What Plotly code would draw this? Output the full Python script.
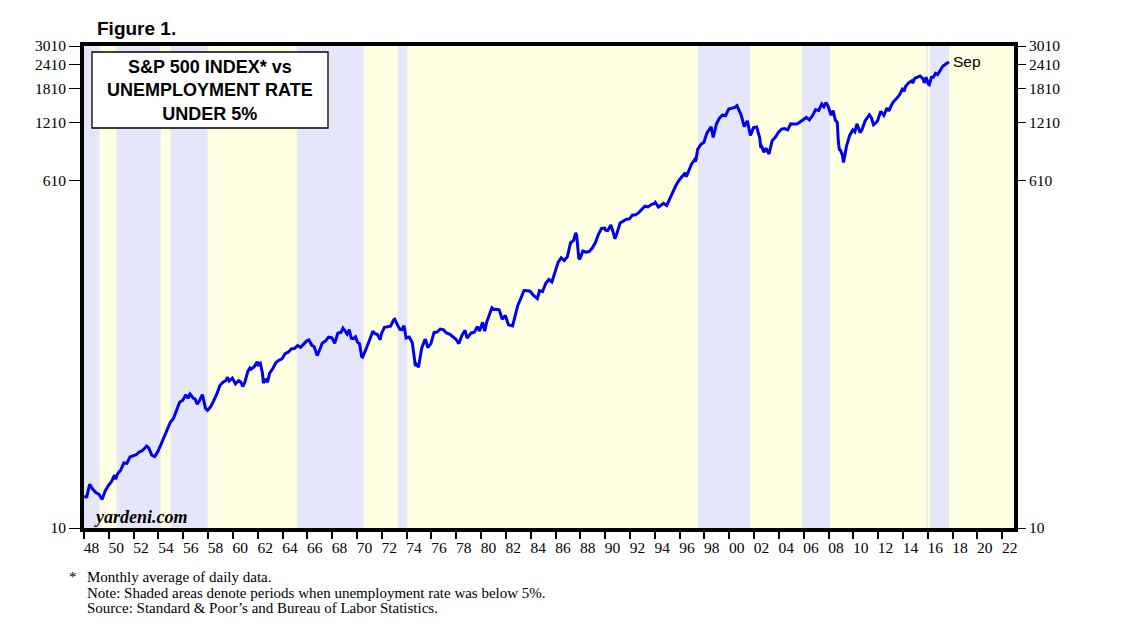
import math
import plotly.graph_objects as go

# ---------------- data ----------------
months = [
 "1948-01","1948-03","1948-06","1948-09","1948-12","1949-03","1949-06","1949-09","1949-12",
 "1950-03","1950-06","1950-07","1950-09","1950-12","1951-03","1951-06","1951-09","1951-12",
 "1952-03","1952-06","1952-09","1952-12","1953-01","1953-03","1953-06","1953-09","1953-12",
 "1954-03","1954-06","1954-09","1954-12","1955-03","1955-06","1955-09","1955-12",
 "1956-03","1956-05","1956-07","1956-10","1956-12","1957-02","1957-04","1957-07","1957-09","1957-10","1957-12",
 "1958-03","1958-06","1958-09","1958-12","1959-03","1959-06","1959-07","1959-09","1959-12",
 "1960-03","1960-06","1960-08","1960-10","1960-12","1961-03","1961-05","1961-06","1961-09","1961-12",
 "1962-01","1962-03","1962-05","1962-06","1962-08","1962-10","1962-12",
 "1963-03","1963-06","1963-09","1963-12","1964-03","1964-06","1964-09","1964-12",
 "1965-03","1965-06","1965-09","1965-12","1966-02","1966-05","1966-07","1966-10","1966-12",
 "1967-03","1967-06","1967-09","1967-12","1968-03","1968-06","1968-09","1968-11",
 "1969-01","1969-03","1969-05","1969-07","1969-09","1969-11",
 "1970-01","1970-03","1970-05","1970-06","1970-09","1970-12",
 "1971-03","1971-04","1971-06","1971-08","1971-11","1971-12",
 "1972-03","1972-06","1972-09","1972-12","1973-01","1973-03","1973-06","1973-08","1973-10","1973-12",
 "1974-03","1974-06","1974-08","1974-09","1974-10","1974-12",
 "1975-03","1975-06","1975-07","1975-09","1975-12","1976-03","1976-06","1976-09","1976-12",
 "1977-03","1977-06","1977-09","1977-12","1978-03","1978-06","1978-09","1978-11",
 "1979-03","1979-06","1979-09","1979-11","1980-02","1980-04","1980-06","1980-09","1980-11",
 "1981-01","1981-03","1981-06","1981-09","1981-12","1982-03","1982-07","1982-09","1982-12",
 "1983-03","1983-06","1983-09","1983-12","1984-03","1984-07","1984-09","1984-12",
 "1985-03","1985-06","1985-09","1985-12","1986-03","1986-06","1986-09","1986-12",
 "1987-03","1987-06","1987-08","1987-09","1987-10","1987-11","1987-12",
 "1988-03","1988-06","1988-09","1988-12","1989-03","1989-06","1989-09","1989-12",
 "1990-01","1990-03","1990-06","1990-08","1990-10","1990-12",
 "1991-03","1991-06","1991-09","1991-12","1992-03","1992-06","1992-09","1992-12",
 "1993-03","1993-06","1993-09","1993-12","1994-01","1994-04","1994-06","1994-09","1994-12",
 "1995-03","1995-06","1995-09","1995-12","1996-03","1996-06","1996-07","1996-09","1996-12",
 "1997-03","1997-04","1997-06","1997-09","1997-12","1998-03","1998-07","1998-09","1998-12",
 "1999-03","1999-06","1999-09","1999-12","2000-03","2000-06","2000-08","2000-10","2000-12",
 "2001-03","2001-04","2001-06","2001-09","2001-12","2002-03","2002-06","2002-07","2002-08","2002-10","2002-12",
 "2003-03","2003-06","2003-09","2003-12","2004-03","2004-06","2004-09","2004-12",
 "2005-03","2005-06","2005-09","2005-12","2006-03","2006-06","2006-09","2006-12",
 "2007-03","2007-06","2007-08","2007-10","2007-12",
 "2008-03","2008-05","2008-07","2008-09","2008-10","2008-11","2008-12",
 "2009-02","2009-03","2009-06","2009-09","2009-12",
 "2010-02","2010-04","2010-07","2010-09","2010-12",
 "2011-04","2011-06","2011-08","2011-10","2011-12",
 "2012-03","2012-06","2012-09","2012-11","2013-01","2013-03","2013-06","2013-09","2013-12",
 "2014-02","2014-03","2014-06","2014-09","2014-10","2014-12",
 "2015-03","2015-05","2015-08","2015-09","2015-11",
 "2016-01","2016-02","2016-04","2016-06","2016-08","2016-10","2016-12",
 "2017-03","2017-06","2017-09",
]
sp500 = [
 14.7,14.3,16.8,15.8,15.2,14.9,14.0,15.5,16.5,
 17.3,18.7,17.8,19.0,19.8,21.6,21.5,23.2,23.4,
 23.8,24.6,25.0,26.0,26.4,25.9,23.7,23.3,24.8,
 26.9,29.2,32.3,35.0,36.6,40.0,44.3,45.4,
 48.5,46.5,48.8,46.6,46.0,43.3,45.0,48.5,44.0,41.2,40.3,
 42.1,45.2,48.9,54.2,56.2,57.5,59.7,57.0,59.0,
 55.0,57.2,56.5,53.4,56.0,64.0,66.5,65.6,67.3,71.7,
 69.1,70.3,62.9,55.6,58.5,56.2,62.6,
 65.9,70.8,72.9,74.2,78.8,80.2,83.4,83.8,
 86.8,85.0,88.9,91.7,92.7,86.8,85.8,77.1,81.3,
 89.4,91.4,95.8,95.3,89.1,100.5,101.3,106.5,
 102.0,99.3,104.6,94.7,94.2,96.2,
 90.3,88.65,76.1,75.6,82.6,90.1,
 99.6,103.0,99.7,99.0,92.8,99.2,
 107.7,108.0,109.0,117.5,118.4,112.4,105.0,104.8,109.8,94.8,
 96.0,89.7,76.0,68.1,69.4,67.1,
 83.8,92.4,92.5,84.7,88.7,101.1,101.8,105.5,104.7,
 100.6,99.3,96.2,93.8,88.8,97.7,103.9,94.7,
 100.7,101.7,108.6,103.0,114.2,102.97,114.6,126.5,135.7,
 133.0,133.2,132.3,118.3,123.8,110.8,109.4,122.4,139.4,
 151.9,166.4,166.0,165.2,157.4,151.1,166.1,164.5,
 180.7,189.6,184.1,207.3,232.3,245.3,237.4,248.6,
 292.5,301.4,329.4,318.7,280.2,245.0,241.0,
 265.7,262.2,263.9,274.9,292.7,323.7,347.3,348.6,
 339.9,338.5,361.2,335.0,307.1,328.8,
 370.5,378.3,387.2,388.5,407.4,408.3,418.5,435.6,
 451.7,447.8,460.1,465.9,473.0,447.0,454.8,467.0,455.2,
 495.5,539.4,578.8,614.6,645.5,670.6,639.9,683.0,743.3,
 784.0,765.0,884.6,937.0,962.4,1076.8,1156.6,1020.6,1190.1,
 1281.7,1332.1,1318.2,1428.7,1442.2,1455.0,1485.5,1390.1,1330.9,
 1160.3,1183.5,1240.2,1044.6,1144.9,1153.8,1014.0,903.6,912.6,854.6,897.8,
 837.6,980.8,1022.0,1080.6,1124.0,1131.9,1115.1,1199.2,
 1197.0,1195.0,1224.3,1262.1,1292.0,1256.2,1317.8,1416.4,
 1403.2,1514.5,1466.0,1539.7,1479.2,
 1326.4,1400.0,1257.3,1217.0,968.8,883.0,877.6,
 825.9,757.1,923.3,1044.6,1114.0,
 1089.2,1197.3,1079.8,1122.1,1242.9,
 1331.5,1287.3,1185.3,1207.2,1243.3,
 1389.2,1323.5,1443.4,1394.5,1480.4,1550.8,1613.2,1681.6,1807.8,
 1788.7,1863.5,1947.1,1993.2,1937.3,2054.3,
 2082.2,2111.9,2039.9,1944.4,2080.6,
 1918.6,1904.4,2075.5,2083.9,2177.5,2143.0,2246.6,
 2366.8,2434.0,2492.8,
]

# periods when unemployment rate was below 5% (decimal years)
band_start = [1948.0, 1950.62, 1954.98, 1965.14, 1973.28, 1997.47, 2005.86, 2015.87, 2016.20]
band_end   = [1949.25, 1954.17, 1957.96, 1970.54, 1974.06, 2001.67, 2008.11, 2016.00, 2017.72]

y_ticks = [10, 610, 1210, 1810, 2410, 3010]
x_tick_years = list(range(1948, 2023, 2))
x_tick_labels = [f"{y % 100:02d}" for y in x_tick_years]

title_lines = ["S&amp;P 500 INDEX* vs", "UNEMPLOYMENT RATE", "UNDER 5%"]
notes = ["Monthly average of daily data.",
         "Note: Shaded areas denote periods when unemployment rate was below 5%.",
         "Source: Standard &amp; Poor’s and Bureau of Labor Statistics."]

# ---------------- figure ----------------
def dec_year(s):
    y, m = s.split("-")
    return int(y) + (int(m) - 0.5) / 12.0

xs = [dec_year(m) for m in months]

LAV = "#E6E6FA"
YEL = "#FFFFE2"
SERIF = "Liberation Serif"
SANS = "Liberation Sans"

# plot-area geometry in page pixels (page has an 8px body margin)
PL, PR, PT, PB = 84, 1014, 46, 528
PW, PH = PR - PL, PB - PT
def px(x):
    return (x - PL) / PW
def py(y):
    return (PB - y) / PH

fig = go.Figure()
fig.add_trace(go.Scatter(x=xs, y=sp500, mode="lines",
                         line=dict(color="#0000F0", width=3),
                         showlegend=False, hoverinfo="x+y"))
# helper trace so that the secondary (label) axes are drawn
fig.add_trace(go.Scatter(x=[xs[0]], y=[sp500[0]], mode="lines", xaxis="x2", yaxis="y2",
                         line=dict(color="rgba(0,0,0,0)"), showlegend=False, hoverinfo="skip"))

shapes = []
for s, e in zip(band_start, band_end):
    shapes.append(dict(type="rect", xref="x", yref="paper", x0=s, x1=e, y0=0, y1=1,
                       fillcolor=LAV, line=dict(width=0), layer="below"))
# title box
shapes.append(dict(type="rect", xref="paper", yref="paper",
                   x0=px(92), x1=px(328), y0=py(128), y1=py(52),
                   fillcolor="white", line=dict(color="black", width=1.3), layer="above"))

XR = [1948.0, 2022.95]
YR = [1.0, math.log10(3010)]

fig.update_layout(
    width=1138, height=630,
    margin=dict(l=PL - 8, r=1138 - PW - (PL - 8), t=PT - 8, b=630 - PH - (PT - 8)),
    paper_bgcolor="white", plot_bgcolor=YEL,
    shapes=shapes,
    xaxis=dict(range=XR, showgrid=False, zeroline=False,
               showline=True, linecolor="black", linewidth=4, mirror=True,
               tickmode="array", tickvals=x_tick_years, showticklabels=False,
               ticks="outside", ticklen=7, tickwidth=2, tickcolor="black"),
    xaxis2=dict(range=XR, overlaying="x", side="bottom", anchor="y",
                showgrid=False, zeroline=False, showline=False,
                tickmode="array", tickvals=[y + 0.6 for y in x_tick_years], ticktext=x_tick_labels,
                ticks="outside", ticklen=5, tickcolor="rgba(0,0,0,0)",
                tickfont=dict(family=SERIF, size=15.5, color="black")),
    yaxis=dict(type="log", range=YR, showgrid=False, zeroline=False,
               showline=True, linecolor="black", linewidth=4, mirror=True,
               tickmode="array", tickvals=y_ticks, ticktext=[str(v) for v in y_ticks],
               ticks="outside", ticklen=11, tickwidth=1, tickcolor="black",
               tickfont=dict(family=SERIF, size=15.5, color="black")),
    yaxis2=dict(type="log", range=YR, overlaying="y", side="right", anchor="x",
                showgrid=False, zeroline=False, showline=False,
                tickmode="array", tickvals=y_ticks, ticktext=[str(v) for v in y_ticks],
                ticks="outside", ticklen=11, tickwidth=1, tickcolor="black",
                tickfont=dict(family=SERIF, size=15.5, color="black")),
)

ann = []
ann.append(dict(text="<b>Figure 1.</b>", xref="paper", yref="paper",
                x=px(95), y=py(29), xanchor="left", yanchor="middle",
                showarrow=False, font=dict(family=SANS, size=19, color="black")))
ann.append(dict(text="<b>" + "<br>".join(title_lines) + "</b>", xref="paper", yref="paper",
                x=px(210), y=py(90.5), xanchor="center", yanchor="middle", align="center",
                showarrow=False, font=dict(family=SANS, size=18, color="black")))
ann.append(dict(text="<b><i>yardeni.com</i></b>", xref="paper", yref="paper",
                x=px(92), y=py(517), xanchor="left", yanchor="middle",
                showarrow=False, font=dict(family=SERIF, size=18, color="black")))
ann.append(dict(text="Sep", xref="x", yref="y", x=xs[-1] + 0.2, y=math.log10(sp500[-1]),
                xanchor="left", yanchor="middle", showarrow=False,
                font=dict(family=SANS, size=15.5, color="black")))
ann.append(dict(text="*", xref="paper", yref="paper", x=px(67), y=py(577),
                xanchor="left", yanchor="middle", showarrow=False,
                font=dict(family=SERIF, size=15, color="black")))
for txt, yy in zip(notes, [577, 592.5, 608]):
    ann.append(dict(text=txt, xref="paper", yref="paper", x=px(85), y=py(yy),
                    xanchor="left", yanchor="middle", showarrow=False,
                    font=dict(family=SERIF, size=15, color="black")))
fig.update_layout(annotations=ann)

fig.write_html("out.html")
